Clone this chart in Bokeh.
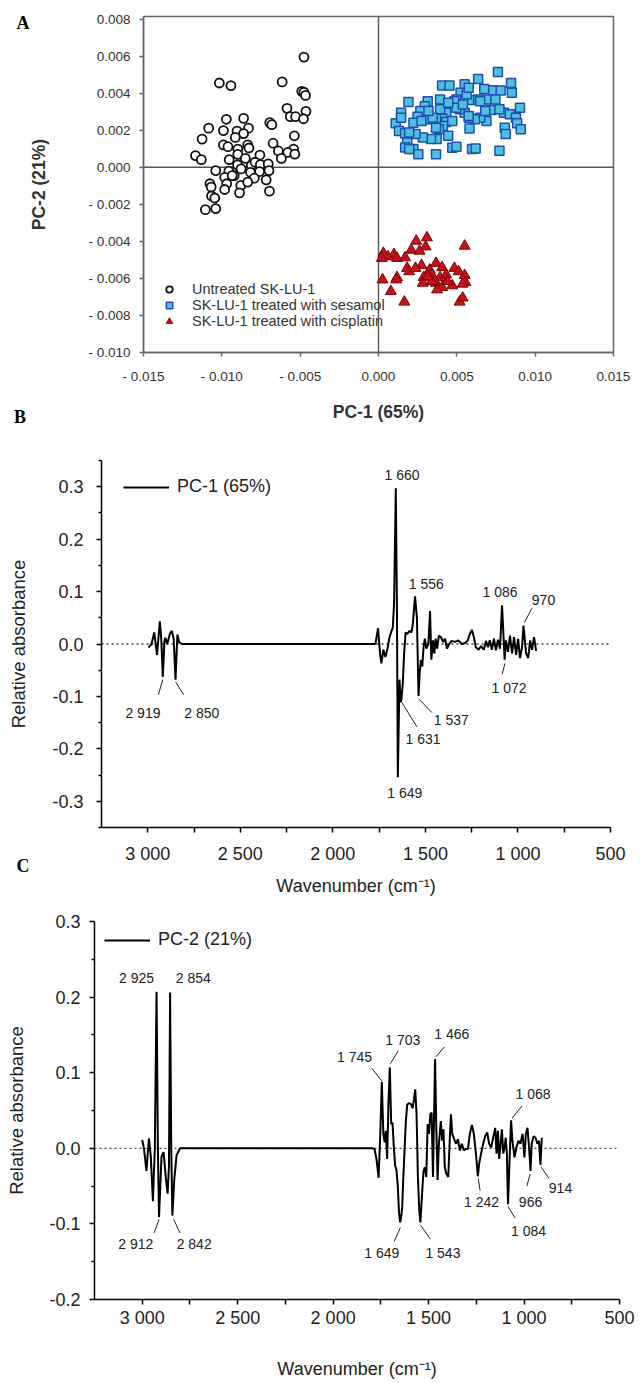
from bokeh.plotting import figure
from bokeh.layouts import column
from bokeh.models import Range1d, FixedTicker, Span, Legend, LegendItem
from bokeh.embed import file_html
from bokeh.resources import INLINE
from bokeh.core.properties import value

FONT = "Liberation Sans"
SERIF = "Liberation Serif"

# ---------------- Panel A data (PCA scores) ----------------
untreated_x = [-0.00476, -0.01016, -0.00942, -0.00615, -0.0049, -0.00476, -0.00466, -0.00584, -0.00463, -0.00563,
               -0.00529, -0.00479, -0.00971, -0.00861, -0.00694, -0.00681, -0.01084, -0.0099, -0.00903, -0.0083,
               -0.00861, -0.01126, -0.00537, -0.00914, -0.0099, -0.00961, -0.00835, -0.00673, -0.00898, -0.00827,
               -0.00542, -0.00639, -0.00579, -0.00534, -0.01168, -0.01131, -0.00953, -0.00898, -0.0085, -0.00757,
               -0.0062, -0.009, -0.00812, -0.00788, -0.00754, -0.00704, -0.01039, -0.00955, -0.00921, -0.00877,
               -0.00817, -0.00759, -0.00699, -0.00982, -0.00934, -0.00793, -0.00717, -0.01076, -0.01068, -0.00969,
               -0.00879, -0.00835, -0.00982, -0.00887, -0.00696, -0.01066, -0.01045, -0.01105, -0.01039]
untreated_y = [0.00595, 0.00455, 0.00441, 0.00461, 0.0041, 0.00405, 0.00388, 0.00318, 0.00302, 0.00273,
               0.00273, 0.00262, 0.00259, 0.00264, 0.00241, 0.0023, 0.00211, 0.00198, 0.00195, 0.00211,
               0.00182, 0.00152, 0.0017, 0.00161, 0.00121, 0.00111, 0.00121, 0.0013, 0.00098, 0.00104,
               0.00098, 0.00088, 0.0008, 0.00071, 0.00063, 0.00041, 0.00041, 0.0007, 0.00048, 0.00066,
               0.00048, 0.00013, 0.00009, 0.00027, 0.00014, 0.00018, -0.00018, -0.00021, -0.00045, -0.00009,
               -0.00027, -0.00023, -0.00018, -0.00054, -0.00045, -0.00059, -0.00068, -0.00089, -0.00107, -0.00089,
               -0.00098, -0.0008, -0.0012, -0.00138, -0.00129, -0.00155, -0.00166, -0.00229, -0.00223]

sesamol_x = [0.00762, 0.00846, 0.00851, 0.00636, 0.00675, 0.00733, 0.0078, 0.00406, 0.00453, 0.0055,
             0.00524, 0.00497, 0.00597, 0.00636, 0.00694, 0.00746, 0.0072, 0.00801, 0.00903, 0.00838,
             0.00877, 0.00885, 0.00908, 0.00806, 0.00689, 0.00649, 0.00615, 0.00576, 0.0055, 0.00518,
             0.00484, 0.00497, 0.00432, 0.00406, 0.00432, 0.00411, 0.00445, 0.00385, 0.00367, 0.00393,
             0.00314, 0.00296, 0.00267, 0.00249, 0.00223, 0.00275, 0.0033, 0.00367, 0.00372, 0.00335,
             0.00283, 0.00236, 0.00191, 0.00144, 0.0011, 0.00131, 0.0017, 0.00196, 0.00183, 0.0017,
             0.00223, 0.00254, 0.00367, 0.00471, 0.00497, 0.00597, 0.0062, 0.00772, 0.00581, 0.00576,
             0.00471, 0.00393, 0.00346, 0.00319, 0.00445, 0.00539, 0.00681, 0.00772, 0.00649, 0.00563,
             0.00576, 0.00144, 0.00196, 0.00812]
sesamol_y = [0.00514, 0.00455, 0.00402, 0.00477, 0.00423, 0.00416, 0.00414, 0.00441, 0.00441, 0.00448,
             0.00402, 0.00366, 0.00363, 0.00366, 0.00366, 0.00366, 0.00309, 0.00295, 0.00321, 0.00286,
             0.00268, 0.00238, 0.00205, 0.00214, 0.0025, 0.00268, 0.00259, 0.00268, 0.00295, 0.00313,
             0.00357, 0.00321, 0.00295, 0.00263, 0.00245, 0.00223, 0.0017, 0.00205, 0.00263, 0.00313,
             0.00357, 0.0033, 0.00304, 0.00273, 0.00241, 0.0025, 0.00259, 0.00214, 0.00152, 0.00152,
             0.00161, 0.00179, 0.00352, 0.00295, 0.00238, 0.00196, 0.00184, 0.00188, 0.00134, 0.00107,
             0.00098, 0.0007, 0.0007, 0.00105, 0.00111, 0.00098, 0.00102, 0.00089, 0.00209, 0.00277,
             0.0025, 0.00366, 0.00268, 0.00304, 0.00348, 0.00339, 0.00304, 0.00313, 0.00357, 0.00393,
             0.00429, 0.00268, 0.00098, 0.00179]

cisplatin_x = [0.00309, 0.00241, 0.0055, 0.00301, 0.00209, 0.00262, 0.00031, 0.00099, 0.0006, 0.00118,
               0.0017, 0.00021, 0.00367, 0.00275, 0.00406, 0.00484, 0.00183, 0.00327, 0.0034, 0.00196,
               0.00511, 0.0055, 0.00393, 0.00432, 0.00288, 0.00367, 0.00283, 0.00406, 0.00471, 0.00555,
               0.00118, 0.00026, 0.00113, 0.0044, 0.00537, 0.0034, 0.00079, 0.00165, 0.00518, 0.00537,
               0.00314, 0.00374, 0.00236]
cisplatin_y = [-0.0038, -0.00398, -0.00425, -0.00429, -0.00447, -0.00452, -0.00464, -0.0047, -0.00482, -0.00491,
               -0.00488, -0.00491, -0.00518, -0.0053, -0.00541, -0.00545, -0.00545, -0.00554, -0.0058, -0.00563,
               -0.00563, -0.00584, -0.00595, -0.0058, -0.00595, -0.00625, -0.00625, -0.00648, -0.00639, -0.00621,
               -0.00595, -0.00607, -0.00607, -0.00616, -0.0063, -0.00616, -0.0067, -0.00727, -0.00727, -0.00705,
               -0.00589, -0.00661, -0.00545]

groups = ["Untreated SK-LU-1", "SK-LU-1 treated with sesamol", "SK-LU-1 treated with cisplatin"]
panel_letters = ["A", "B", "C"]

xA_ticks = [-0.015, -0.010, -0.005, 0.0, 0.005, 0.010, 0.015]
xA_labels = ["- 0.015", "- 0.010", "- 0.005", "0.000", "0.005", "0.010", "0.015"]
yA_ticks = [-0.010, -0.008, -0.006, -0.004, -0.002, 0.0, 0.002, 0.004, 0.006, 0.008]
yA_labels = ["- 0.010", "- 0.008", "- 0.006", "- 0.004", "- 0.002", "0.000", "0.002", "0.004", "0.006", "0.008"]

# ---------------- Panel B data (PC-1 loading) ----------------
pc1_wn = [2996, 2980, 2965, 2950, 2935, 2927, 2919, 2910, 2905, 2895,
          2880, 2870, 2860, 2850, 2840, 2830, 2815, 1790, 1770, 1756,
          1745, 1738, 1727, 1716, 1705, 1694, 1683, 1676, 1669, 1660,
          1654, 1649, 1640, 1635, 1631, 1622, 1615, 1607, 1597, 1586,
          1575, 1568, 1556, 1546, 1537, 1531, 1524, 1517, 1510, 1503,
          1495, 1484, 1475, 1468, 1459, 1452, 1445, 1437, 1427, 1416,
          1405, 1394, 1383, 1372, 1358, 1340, 1322, 1304, 1285, 1271,
          1260, 1249, 1238, 1228, 1213, 1199, 1184, 1173, 1162, 1152,
          1141, 1130, 1119, 1108, 1097, 1086, 1072, 1065, 1054, 1043,
          1032, 1021, 1010, 999, 989, 978, 970, 956, 945, 934,
          924, 913, 902]
pc1_val = [-0.007, 0.0, 0.022, -0.021, 0.043, 0.01, -0.063, 0.005, 0.012, 0.0,
           0.02, 0.025, 0.01, -0.068, 0.018, 0.003, 0.0, 0.0, 0.0, 0.030,
           -0.018, -0.037, -0.011, -0.025, -0.009, 0.013, 0.025, 0.032, 0.08, 0.297,
           0.08, -0.254, -0.068, -0.105, -0.111, -0.074, -0.018, 0.022, 0.019, 0.025,
           0.022, 0.038, 0.091, 0.05, -0.099, -0.055, -0.03, -0.043, -0.006, 0.01,
           -0.009, 0.0, 0.063, -0.03, 0.007, -0.018, 0.01, -0.009, 0.016, 0.013,
           0.004, 0.01, -0.009, 0.0, 0.006, 0.004, 0.007, 0.0, 0.002, 0.007,
           0.019, 0.027, 0.013, -0.006, -0.011, -0.004, -0.011, 0.006, -0.006, 0.007,
           -0.011, 0.01, -0.012, 0.008, -0.009, 0.074, -0.03, 0.007, -0.015, 0.016,
           -0.018, 0.013, -0.021, 0.01, -0.027, -0.006, 0.035, -0.018, -0.027, 0.007,
           -0.011, 0.013, -0.013]

pc1_peak_labels = ["1 660", "1 556", "1 086", "970", "1 072", "1 537", "1 631", "1 649", "2 919", "2 850"]
pc1_label_x = [1626, 1495, 1097, 862, 1048, 1360, 1513, 1611, 3026, 2708]
pc1_label_y = [0.323, 0.115, 0.099, 0.084, -0.083, -0.145, -0.182, -0.285, -0.132, -0.132]
pc1_lead_x0 = [965, 1070, 1535, 1626, 2919, 2850]
pc1_lead_y0 = [0.041, -0.037, -0.105, -0.112, -0.068, -0.072]
pc1_lead_x1 = [925, 1086, 1464, 1546, 2943, 2806]
pc1_lead_y1 = [0.068, -0.058, -0.131, -0.158, -0.097, -0.097]

# ---------------- Panel C data (PC-2 loading) ----------------
pc2_wn = [3000, 2990, 2978, 2965, 2955, 2944, 2934, 2925, 2918, 2912,
          2899, 2888, 2876, 2867, 2860, 2854, 2848, 2842, 2832, 2820,
          2802, 1797, 1783, 1772, 1762, 1753, 1745, 1737, 1730, 1724, 1717,
          1710, 1703, 1696, 1689, 1682, 1675, 1668, 1661, 1655, 1649,
          1643, 1638, 1633, 1626, 1619, 1612, 1601, 1591, 1584, 1577,
          1570, 1563, 1556, 1549, 1543, 1535, 1527, 1520, 1512, 1505,
          1498, 1491, 1484, 1477, 1466, 1460, 1453, 1446, 1436, 1429,
          1422, 1415, 1408, 1397, 1390, 1383, 1376, 1369, 1357, 1346,
          1336, 1326, 1315, 1305, 1294, 1284, 1273, 1263, 1252, 1242,
          1235, 1225, 1214, 1204, 1193, 1183, 1172, 1162, 1151, 1144,
          1137, 1130, 1123, 1116, 1109, 1102, 1096, 1090, 1084, 1076,
          1068, 1061, 1050, 1040, 1029, 1019, 1008, 998, 991, 982,
          974, 966, 960, 950, 940, 930, 922, 914, 907]
pc2_val = [0.011, -0.002, -0.03, 0.013, -0.011, -0.07, 0.0, 0.207, 0.0, -0.091,
           -0.011, -0.005, -0.04, -0.06, -0.024, 0.206, 0.0, -0.089, -0.041, -0.009,
           0.0, 0.0, -0.001, -0.016, -0.039, 0.019, 0.088, 0.019, 0.008, 0.023, -0.014,
           0.062, 0.107, 0.032, 0.034, 0.001, -0.023, -0.029, -0.051, -0.085, -0.098,
           -0.09, -0.077, -0.042, -0.003, 0.036, 0.058, 0.06, 0.058, 0.053, 0.064,
           0.078, 0.045, -0.038, -0.081, -0.098, -0.064, -0.031, -0.025, -0.038, 0.032,
           0.019, 0.045, 0.047, -0.038, 0.118, 0.032, -0.042, 0.006, 0.036, 0.01,
           0.025, -0.025, -0.033, -0.038, 0.006, 0.045, 0.019, 0.014, 0.006, 0.012,
           -0.003, 0.006, -0.003, -0.001, -0.001, 0.019, 0.031, 0.019, -0.007, -0.037,
           -0.02, -0.007, 0.006, 0.016, 0.021, 0.006, 0.001, 0.014, 0.027, -0.007,
           0.023, -0.014, 0.006, 0.025, -0.007, 0.001, 0.014, -0.007, -0.074, -0.016,
           0.037, 0.01, -0.012, 0.001, 0.01, 0.006, 0.019, -0.012, 0.019, 0.027,
           0.002, -0.03, 0.006, 0.016, 0.014, 0.006, 0.01, -0.022, 0.014]

pc2_peak_labels = ["2 925", "2 854", "2 912", "2 842", "1 745", "1 703", "1 466", "1 068",
                   "1 649", "1 543", "1 242", "966", "914", "1 084"]
pc2_label_x = [3030, 2732, 3034, 2728, 1888, 1635, 1378, 953, 1745, 1425, 1223, 966, 809, 976]
pc2_label_y = [0.225, 0.225, -0.127, -0.127, 0.121, 0.143, 0.151, 0.072,
               -0.139, -0.139, -0.071, -0.071, -0.053, -0.109]
pc2_lead_x0 = [2912, 2835, 1798, 1700, 1461, 1062, 1648, 1541, 1240, 968, 910, 1084]
pc2_lead_y0 = [-0.094, -0.094, 0.106, 0.112, 0.121, 0.040, -0.105, -0.102, -0.040, -0.034, -0.025, -0.077]
pc2_lead_x1 = [2938, 2802, 1745, 1659, 1418, 1011, 1680, 1491, 1230, 985, 869, 1047]
pc2_lead_y1 = [-0.112, -0.112, 0.089, 0.129, 0.134, 0.056, -0.123, -0.120, -0.056, -0.050, -0.040, -0.092]

wn_ticks = [3000, 2500, 2000, 1500, 1000, 500]
wn_minor = [2750, 2250, 1750, 1250, 750]
wn_labels = ["3 000", "2 500", "2 000", "1 500", "1 000", "500"]

yB_ticks = [-0.3, -0.2, -0.1, 0.0, 0.1, 0.2, 0.3]
yB_minor = [-0.35, -0.25, -0.15, -0.05, 0.05, 0.15, 0.25, 0.35]
yB_labels = ["-0.3", "-0.2", "-0.1", "0.0", "0.1", "0.2", "0.3"]
yC_ticks = [-0.2, -0.1, 0.0, 0.1, 0.2, 0.3]
yC_minor = [-0.15, -0.05, 0.05, 0.15, 0.25]
yC_labels = ["-0.2", "-0.1", "0.0", "0.1", "0.2", "0.3"]

W = 636


def base_fig(h, x_range, y_range, left, right, top, bottom):
    p = figure(width=W, height=h, output_backend="svg", toolbar_location=None,
               x_range=x_range, y_range=y_range,
               min_border_left=left, min_border_right=right,
               min_border_top=top, min_border_bottom=bottom)
    try:
        p.frame_align = False
    except Exception:
        pass
    p.grid.visible = False
    p.background_fill_color = "white"
    p.border_fill_color = "white"
    return p


def style_axis(ax, color, lab_size, lab_color, tick_out, minor_out, lab_standoff, axis_standoff,
               axis_font_size, axis_bold, width):
    ax.axis_line_color = color
    ax.axis_line_width = width
    ax.major_tick_line_color = color
    ax.major_tick_line_width = width
    ax.minor_tick_line_color = color
    ax.minor_tick_line_width = width
    ax.major_tick_in = 0
    ax.major_tick_out = tick_out
    ax.minor_tick_in = 0
    ax.minor_tick_out = minor_out
    ax.major_label_text_font = FONT
    ax.major_label_text_font_size = lab_size
    ax.major_label_text_color = lab_color
    ax.major_label_standoff = lab_standoff
    ax.axis_label_text_font = FONT
    ax.axis_label_text_font_size = axis_font_size
    ax.axis_label_text_font_style = "bold" if axis_bold else "normal"
    ax.axis_label_text_color = lab_color
    ax.axis_label_standoff = axis_standoff


# ================= Panel A =================
pA = base_fig(428, Range1d(-0.015, 0.015), Range1d(-0.010, 0.00814), 143, W - 613, 16, 76)
pA.outline_line_color = "#666666"
pA.outline_line_width = 1.5
pA.add_layout(Span(location=0, dimension="height", line_color="#555555", line_width=1.4, level="underlay"))
pA.add_layout(Span(location=0, dimension="width", line_color="#555555", line_width=1.4, level="underlay"))

rA1 = pA.scatter(untreated_x, untreated_y, marker="circle", size=9, fill_color="white",
                 line_color="#111111", line_width=1.8)
rA2 = pA.scatter(sesamol_x, sesamol_y, marker="square", size=9, fill_color="#4fc0dc",
                 line_color="#1f4fb4", line_width=1.5)
rA3 = pA.scatter(cisplatin_x, cisplatin_y, marker="triangle", size=11, fill_color="#c4121b",
                 line_color="#7a0606", line_width=1.0)

legA = Legend(items=[LegendItem(label=groups[0], renderers=[rA1]),
                     LegendItem(label=groups[1], renderers=[rA2]),
                     LegendItem(label=groups[2], renderers=[rA3])],
              location=(16, 23), orientation="vertical")
legA.glyph_width = 20
legA.glyph_height = 16
legA.label_height = 16
legA.spacing = 0
legA.padding = 0
legA.margin = 0
legA.label_standoff = 13
legA.border_line_color = None
legA.background_fill_alpha = 0
legA.label_text_font = FONT
legA.label_text_font_size = "14.5px"
legA.label_text_color = "#333333"
pA.add_layout(legA)

pA.xaxis.ticker = FixedTicker(ticks=xA_ticks, minor_ticks=[])
pA.xaxis.major_label_overrides = dict(zip(xA_ticks, xA_labels))
pA.yaxis.ticker = FixedTicker(ticks=yA_ticks, minor_ticks=[])
pA.yaxis.major_label_overrides = dict(zip(yA_ticks, yA_labels))
pA.xaxis.axis_label = "PC-1 (65%)"
pA.yaxis.axis_label = "PC-2 (21%)"
style_axis(pA.xaxis[0], "#666666", "13.5px", "#333333", 4, 0, 12, 15, "17.5px", True, 1.5)
style_axis(pA.yaxis[0], "#666666", "13.5px", "#333333", 4, 0, 9, 36, "17.5px", True, 1.5)


def spectrum_panel(h, top, bottom, left, right, y_range, yticks, yminor, ylabels, wn, vals,
                   leg_label, leg_loc, lab_txt, lab_x, lab_y, lx0, ly0, lx1, ly1,
                   tick_standoff, axis_standoff, y_tick_standoff, y_axis_standoff):
    p = base_fig(h, Range1d(3250, 500), y_range, left, right, top, bottom)
    p.outline_line_color = None
    p.add_layout(Span(location=0, dimension="width", line_color="#444444", line_width=1.3,
                      line_dash="2 3", level="underlay"))
    r = p.line(wn, vals, line_color="black", line_width=2)
    p.segment(x0=lx0, y0=ly0, x1=lx1, y1=ly1, line_color="#222222", line_width=1)
    p.text(x=lab_x, y=lab_y, text=lab_txt, text_font=value(FONT), text_font_size="14px",
           text_align="center", text_baseline="middle", text_color="#222222")
    leg = Legend(items=[LegendItem(label=leg_label, renderers=[r])], location=leg_loc)
    leg.glyph_width = 46
    leg.glyph_height = 20
    leg.label_height = 20
    leg.padding = 0
    leg.margin = 0
    leg.spacing = 0
    leg.label_standoff = 8
    leg.border_line_color = None
    leg.background_fill_alpha = 0
    leg.label_text_font = FONT
    leg.label_text_font_size = "18px"
    leg.label_text_color = "#222222"
    p.add_layout(leg)
    p.xaxis.ticker = FixedTicker(ticks=wn_ticks, minor_ticks=wn_minor)
    p.xaxis.major_label_overrides = dict(zip(wn_ticks, wn_labels))
    p.yaxis.ticker = FixedTicker(ticks=yticks, minor_ticks=yminor)
    p.yaxis.major_label_overrides = dict(zip(yticks, ylabels))
    p.xaxis.axis_label = "Wavenumber (cm\u207b\u00b9)"
    p.yaxis.axis_label = "Relative absorbance"
    style_axis(p.xaxis[0], "black", "18px", "#222222", 5, 5, tick_standoff, axis_standoff, "18px", False, 1.5)
    style_axis(p.yaxis[0], "black", "18px", "#222222", 5, 3, y_tick_standoff, y_axis_standoff, "18.5px", False, 1.5)
    return p


# ================= Panel B =================
pB = spectrum_panel(470, 32, 64, 101, W - 610, Range1d(-0.35, 0.35), yB_ticks, yB_minor, yB_labels,
                    pc1_wn, pc1_val, "PC-1 (65%)", (22, 330),
                    pc1_peak_labels, pc1_label_x, pc1_label_y,
                    pc1_lead_x0, pc1_lead_y0, pc1_lead_x1, pc1_lead_y1,
                    11, 9, 13, 20)

# ================= Panel C =================
pC = spectrum_panel(483, 23, 78, 94, W - 619, Range1d(-0.2, 0.3), yC_ticks, yC_minor, yC_labels,
                    pc2_wn, pc2_val, "PC-2 (21%)", (10, 349),
                    pc2_peak_labels, pc2_label_x, pc2_label_y,
                    pc2_lead_x0, pc2_lead_y0, pc2_lead_x1, pc2_lead_y1,
                    3, 28, 9, 19)

layout = column(pA, pB, pC, spacing=0)

# panel letters (A, B, C) placed over the page corners, outside the plot frames
letter_pos = [(23, 14), (20, 408), (23, 857)]
letter_divs = "".join(
    '<div class="panel-letter" style="left:%dpx;top:%dpx;">%s</div>' % (lx, ly, t)
    for t, (lx, ly) in zip(panel_letters, letter_pos))
TEMPLATE = (
    "{% block postamble %}<style>"
    ".panel-letter{position:absolute;font-family:'Liberation Serif',serif;font-weight:bold;"
    "font-size:18px;line-height:18px;color:#000;transform:translateX(-50%);z-index:10;}"
    "</style>{% endblock %}"
    "{% block inner_body %}{{ super() }}" + letter_divs + "{% endblock %}"
)

open("out.html", "w").write(file_html(layout, INLINE, template=TEMPLATE))
